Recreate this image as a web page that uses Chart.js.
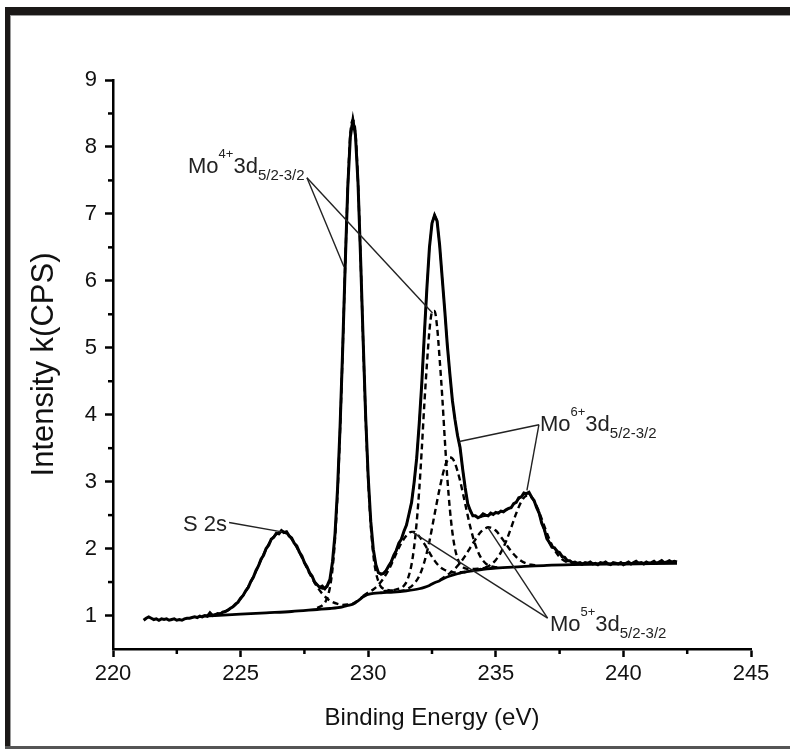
<!DOCTYPE html>
<html>
<head>
<meta charset="utf-8">
<script src="https://cdn.jsdelivr.net/npm/chart.js@4.4.0/dist/chart.umd.min.js"></script>
<style>
  html, body { margin: 0; padding: 0; background: #fff; }
  #wrap { position: relative; width: 790px; height: 749px; overflow: hidden; background: #fff; }
  #c { position: absolute; left: 0; top: 0; }
  .fr { position: absolute; }
</style>
</head>
<body>
<div id="wrap">
  <canvas id="c" width="790" height="749"></canvas>
  <div class="fr" style="left:5px;top:7px;width:785px;height:8px;background:#1b1817"></div>
  <div class="fr" style="left:10px;top:15px;width:780px;height:1px;background:#9a9a9a"></div>
  <div class="fr" style="left:5px;top:7px;width:5px;height:742px;background:#1b1817"></div>
  <div class="fr" style="left:10px;top:15px;width:1px;height:731px;background:#9a9a9a"></div>
  <div class="fr" style="left:5px;top:746px;width:785px;height:3px;background:#555"></div>
</div>
<script>
// ---------------- data ----------------
const xTicks = [220, 225, 230, 235, 240, 245];
const xMinorTicks = [222.5, 227.5, 232.5, 237.5, 242.5];
const yTicks = [1, 2, 3, 4, 5, 6, 7, 8, 9];
const yMinorTicks = [1.5, 2.5, 3.5, 4.5, 5.5, 6.5, 7.5, 8.5];

// binding energy grid of the measured scan (eV)
const scanX = [
  221.2,221.3,221.4,221.5,221.6,221.7,221.8,221.9,222.0,222.1,
  222.2,222.3,222.4,222.5,222.6,222.7,222.8,222.9,223.0,223.1,
  223.2,223.3,223.4,223.5,223.6,223.7,223.8,223.9,224.0,224.1,
  224.2,224.3,224.4,224.5,224.6,224.7,224.8,224.9,225.0,225.1,
  225.2,225.3,225.4,225.5,225.6,225.7,225.8,225.9,226.0,226.1,
  226.2,226.3,226.4,226.5,226.6,226.7,226.8,226.9,227.0,227.1,
  227.2,227.3,227.4,227.5,227.6,227.7,227.8,227.9,228.0,228.1,
  228.2,228.3,228.4,228.5,228.6,228.7,228.8,228.9,229.0,229.1,
  229.2,229.3,229.4,229.5,229.6,229.7,229.8,229.9,230.0,230.1,
  230.2,230.3,230.4,230.5,230.6,230.7,230.8,230.9,231.0,231.1,
  231.2,231.3,231.4,231.5,231.6,231.7,231.8,231.9,232.0,232.1,
  232.2,232.3,232.4,232.5,232.6,232.7,232.8,232.9,233.0,233.1,
  233.2,233.3,233.4,233.5,233.6,233.7,233.8,233.9,234.0,234.1,
  234.2,234.3,234.4,234.5,234.6,234.7,234.8,234.9,235.0,235.1,
  235.2,235.3,235.4,235.5,235.6,235.7,235.8,235.9,236.0,236.1,
  236.2,236.3,236.4,236.5,236.6,236.7,236.8,236.9,237.0,237.1,
  237.2,237.3,237.4,237.5,237.6,237.7,237.8,237.9,238.0,238.1,
  238.2,238.3,238.4,238.5,238.6,238.7,238.8,238.9,239.0,239.1,
  239.2,239.3,239.4,239.5,239.6,239.7,239.8,239.9,240.0,240.1,
  240.2,240.3,240.4,240.5,240.6,240.7,240.8,240.9,241.0,241.1,
  241.2,241.3,241.4,241.5,241.6,241.7,241.8,241.9,242.0,242.1
];
// measured intensity, k(CPS)
const measured = [
  0.93,0.96,0.98,0.96,0.94,0.95,0.93,0.95,0.94,0.95,
  0.93,0.94,0.95,0.93,0.94,0.93,0.95,0.96,0.96,0.97,
  0.98,0.97,0.99,0.98,1.00,0.99,1.04,1.00,1.01,1.03,
  1.02,1.05,1.06,1.08,1.11,1.13,1.17,1.20,1.26,1.30,
  1.37,1.42,1.51,1.57,1.67,1.74,1.84,1.90,2.00,2.05,
  2.14,2.17,2.23,2.22,2.27,2.24,2.25,2.19,2.16,2.08,
  2.04,1.95,1.89,1.79,1.73,1.64,1.59,1.50,1.46,1.42,
  1.44,1.40,1.45,1.54,1.80,2.22,2.90,3.84,4.98,6.25,
  7.40,8.15,8.40,8.18,7.47,6.36,5.14,3.98,3.07,2.41,
  1.99,1.76,1.64,1.62,1.63,1.67,1.74,1.80,1.90,1.97,
  2.08,2.14,2.26,2.35,2.52,2.69,2.99,3.35,3.87,4.47,
  5.20,5.89,6.50,6.86,6.98,6.89,6.53,6.04,5.56,5.04,
  4.61,4.21,3.93,3.69,3.51,3.19,2.91,2.67,2.57,2.49,
  2.49,2.46,2.48,2.52,2.50,2.49,2.53,2.51,2.54,2.53,
  2.56,2.55,2.58,2.60,2.61,2.67,2.69,2.76,2.77,2.83,
  2.82,2.84,2.77,2.72,2.61,2.53,2.38,2.29,2.15,2.09,
  2.02,2.01,1.96,1.94,1.88,1.87,1.82,1.82,1.79,1.80,
  1.78,1.79,1.77,1.79,1.78,1.80,1.77,1.78,1.76,1.79,
  1.78,1.80,1.77,1.76,1.79,1.78,1.77,1.79,1.76,1.78,
  1.80,1.77,1.79,1.81,1.78,1.79,1.77,1.80,1.78,1.79,
  1.81,1.78,1.80,1.82,1.79,1.80,1.82,1.80,1.81,1.80
];
// fitted envelope on the same grid (null = outside fit range)
const envelope = [
  null,null,null,null,null,null,null,null,null,null,
  null,null,null,null,null,null,null,null,null,null,
  null,null,null,0.99,0.99,1.00,1.00,1.01,1.02,1.02,
  1.03,1.05,1.06,1.08,1.10,1.13,1.16,1.20,1.25,1.30,
  1.36,1.43,1.50,1.58,1.66,1.75,1.83,1.91,1.99,2.06,
  2.13,2.18,2.22,2.24,2.26,2.25,2.23,2.20,2.15,2.09,
  2.03,1.96,1.88,1.80,1.72,1.65,1.58,1.51,1.46,1.42,
  1.40,1.40,1.43,1.53,1.78,2.21,2.88,3.83,4.99,6.26,
  7.42,8.20,8.42,8.22,7.49,6.37,5.13,3.99,3.06,2.40,
  1.98,1.74,1.64,1.61,1.62,1.68,1.73,1.81,1.89,1.98,
  2.07,2.15,2.25,2.36,2.51,2.70,2.98,3.36,3.86,4.48,
  5.19,5.90,6.49,6.87,6.99,6.90,6.52,6.05,5.55,5.05,
  4.60,4.22,3.92,3.70,3.50,3.20,2.90,2.68,2.56,2.50,
  2.48,2.47,2.47,2.48,2.49,2.50,2.51,2.52,2.53,2.54,
  2.55,2.56,2.57,2.59,2.62,2.66,2.70,2.74,2.78,2.81,
  2.83,2.82,2.78,2.71,2.62,2.51,2.39,2.27,2.16,2.08,
  2.03,2.00,1.97,1.93,1.89,1.86,1.83,1.81,1.80,1.79,
  1.785,1.78,1.78,1.78,1.78,1.78,1.78,1.78,1.78,1.78,
  1.78,1.78,1.78,1.78,1.78,1.78,1.78,1.785,1.785,1.785,
  1.785,1.785,1.785,1.785,1.79,1.79,1.79,1.79,1.79,1.79,
  1.79,1.79,1.79,1.79,1.79,1.79,1.79,1.79,1.79,1.79
];
// background
const bgX = [223.5,224.0,225.0,226.0,227.0,228.0,228.5,229.0,229.2,229.4,229.5,229.6,229.7,229.8,229.9,230.0,230.2,230.5,231.0,231.5,232.0,232.2,232.4,232.6,232.8,233.0,233.2,233.4,233.6,233.8,234.0,234.5,235.0,236.0,237.0,238.0,240.0,242.1];
const bgY = [0.99,1.00,1.02,1.04,1.06,1.09,1.105,1.13,1.15,1.17,1.19,1.22,1.25,1.28,1.30,1.315,1.33,1.34,1.35,1.37,1.40,1.42,1.45,1.49,1.52,1.56,1.59,1.615,1.635,1.65,1.665,1.69,1.71,1.73,1.75,1.76,1.77,1.78];
// fitted components (dashed), each on top of background
const s2sX = [224.0,224.2,224.4,224.6,224.8,225.0,225.2,225.4,225.6,225.8,226.0,226.2,226.4,226.6,226.8,227.0,227.2,227.4,227.6,227.8,228.0,228.2,228.4,228.6,228.8,229.0,229.2,229.4,229.6,229.8,230.0];
const s2sY = [1.015,1.033,1.061,1.103,1.164,1.25,1.362,1.502,1.661,1.83,1.992,2.127,2.217,2.252,2.225,2.143,2.018,1.866,1.707,1.558,1.428,1.326,1.25,1.201,1.173,1.159,1.165,1.178,1.225,1.283,1.317];
const mo4aX = [228.0,228.2,228.3,228.4,228.5,228.6,228.7,228.8,228.9,229.0,229.1,229.2,229.3,229.4,229.5,229.6,229.7,229.8,229.9,230.0,230.1,230.2,230.3,230.4,230.5,230.6,230.8,231.0];
const mo4aY = [1.115,1.15,1.19,1.27,1.42,1.69,2.14,2.83,3.79,4.96,6.24,7.40,8.20,8.40,8.22,7.47,6.35,5.11,3.96,3.03,2.35,1.91,1.65,1.51,1.43,1.40,1.38,1.37];
const mo4bX = [230.6,230.8,231.0,231.2,231.3,231.4,231.5,231.6,231.7,231.8,231.9,232.0,232.1,232.2,232.3,232.4,232.5,232.6,232.7,232.8,232.9,233.0,233.1,233.2,233.3,233.4,233.5,233.6,233.7,233.8,234.0,234.3,234.6];
const mo4bY = [1.363,1.372,1.378,1.40,1.414,1.445,1.50,1.605,1.765,2.025,2.395,2.88,3.49,4.16,4.75,5.26,5.53,5.55,5.31,4.83,4.28,3.64,3.055,2.59,2.24,2.00,1.855,1.765,1.725,1.704,1.695,1.70,1.71];
const mo5aX = [229.8,230.0,230.2,230.4,230.6,230.8,231.0,231.2,231.4,231.6,231.7,231.8,232.0,232.2,232.4,232.6,232.8,233.0,233.2,233.4,233.6,233.8];
const mo5aY = [1.292,1.344,1.39,1.46,1.555,1.68,1.84,2.01,2.145,2.235,2.25,2.25,2.18,2.07,1.94,1.82,1.73,1.68,1.65,1.644,1.647,1.655];
const mo6aX = [231.2,231.4,231.6,231.8,232.0,232.2,232.4,232.6,232.8,233.0,233.1,233.2,233.3,233.4,233.6,233.8,234.0,234.2,234.4,234.6,234.8,235.0,235.2];
const mo6aY = [1.364,1.377,1.41,1.477,1.59,1.80,2.11,2.51,2.90,3.22,3.315,3.36,3.345,3.275,3.015,2.67,2.325,2.055,1.875,1.78,1.737,1.722,1.718];
const mo5bX = [232.8,233.0,233.2,233.4,233.6,233.8,234.0,234.2,234.4,234.6,234.7,234.8,235.0,235.2,235.4,235.6,235.8,236.0,236.2,236.4,236.6];
const mo5bY = [1.53,1.58,1.633,1.70,1.785,1.89,2.015,2.135,2.245,2.304,2.318,2.312,2.27,2.174,2.068,1.962,1.876,1.814,1.777,1.758,1.751];
const mo6bX = [234.2,234.4,234.6,234.8,235.0,235.2,235.4,235.6,235.8,236.0,236.2,236.3,236.4,236.6,236.8,237.0,237.2,237.4,237.6,237.8,238.0,238.2,238.4];
const mo6bY = [1.678,1.694,1.718,1.759,1.831,1.943,2.107,2.311,2.526,2.702,2.79,2.792,2.765,2.637,2.442,2.235,2.055,1.923,1.84,1.796,1.775,1.766,1.762];

// ---------------- annotations (anchored in data units) ----------------
const annotations = [
  { parts: [['Mo',''],['4+','sup'],['3d',''],['5/2-3/2','sub']], at: [222.94, 7.61],
    lines: [[[227.6, 7.54],[229.05, 6.21]], [[227.6, 7.54],[232.52, 5.52]]] },
  { parts: [['Mo',''],['6+','sup'],['3d',''],['5/2-3/2','sub']], at: [236.73, 3.75],
    lines: [[[236.69, 3.85],[233.57, 3.6]], [[236.69, 3.85],[236.22, 2.87]]] },
  { parts: [['S 2s','']], at: [222.74, 2.27],
    lines: [[[224.55, 2.39],[226.62, 2.25]]] },
  { parts: [['Mo',''],['5+','sup'],['3d',''],['5/2-3/2','sub']], at: [237.12, 0.775],
    lines: [[[237.03, 0.96],[231.72, 2.25]], [[237.03, 0.96],[234.7, 2.31]]] }
];

// ---------------- drawing ----------------
const FONT = "'Liberation Sans', Arial, Helvetica, sans-serif";
const pts = (xs, ys) => xs.map((x, i) => ({ x: x, y: ys[i] })).filter(p => p.y !== null);

const solid = (data, w) => ({ data, borderColor: '#000', borderWidth: w, pointRadius: 0, showLine: true, tension: 0, fill: false });
const smooth = (data, w) => ({ data, borderColor: '#000', borderWidth: w, pointRadius: 0, showLine: true, cubicInterpolationMode: 'monotone', fill: false });
const dashed = (data) => ({ data, borderColor: '#000', borderWidth: 2.4, borderDash: [6, 4], pointRadius: 0, showLine: true, cubicInterpolationMode: 'monotone', fill: false });

const extras = {
  id: 'extras',
  afterDraw(chart) {
    const ctx = chart.ctx, xs = chart.scales.x, ys = chart.scales.y;
    const a = chart.chartArea;
    ctx.save();
    // minor ticks
    ctx.strokeStyle = '#000'; ctx.lineWidth = 2.5;
    xMinorTicks.forEach(v => { const p = xs.getPixelForValue(v); ctx.beginPath(); ctx.moveTo(p, a.bottom); ctx.lineTo(p, a.bottom + 5); ctx.stroke(); });
    yMinorTicks.forEach(v => { const p = ys.getPixelForValue(v); ctx.beginPath(); ctx.moveTo(a.left - 5, p); ctx.lineTo(a.left, p); ctx.stroke(); });
    // annotation leader lines
    ctx.strokeStyle = '#222'; ctx.lineWidth = 1.4;
    annotations.forEach(an => an.lines.forEach(l => {
      ctx.beginPath();
      ctx.moveTo(xs.getPixelForValue(l[0][0]), ys.getPixelForValue(l[0][1]));
      ctx.lineTo(xs.getPixelForValue(l[1][0]), ys.getPixelForValue(l[1][1]));
      ctx.stroke();
    }));
    // annotation text
    ctx.fillStyle = '#222'; ctx.textBaseline = 'alphabetic'; ctx.textAlign = 'left';
    annotations.forEach(an => {
      let cx = xs.getPixelForValue(an.at[0]);
      const by = ys.getPixelForValue(an.at[1]);
      an.parts.forEach(([t, k]) => {
        let size = 22, dy = 0;
        if (k === 'sup') { size = 13; dy = -15; }
        if (k === 'sub') { size = 15; dy = 7; }
        ctx.font = size + 'px ' + FONT;
        ctx.fillText(t, cx, by + dy);
        cx += ctx.measureText(t).width;
      });
    });
    ctx.restore();
  }
};

new Chart(document.getElementById('c'), {
  type: 'scatter',
  data: {
    datasets: [
      solid(pts(scanX, measured), 3),
      solid(pts(scanX, envelope), 1.8),
      smooth(pts(bgX, bgY), 2.8),
      dashed(pts(s2sX, s2sY)),
      dashed(pts(mo4aX, mo4aY)),
      dashed(pts(mo4bX, mo4bY)),
      dashed(pts(mo5aX, mo5aY)),
      dashed(pts(mo6aX, mo6aY)),
      dashed(pts(mo5bX, mo5bY)),
      dashed(pts(mo6bX, mo6bY))
    ]
  },
  options: {
    responsive: false,
    animation: false,
    devicePixelRatio: 1,
    layout: { padding: { left: 0, right: 39, top: 80, bottom: 0 } },
    plugins: { legend: { display: false }, tooltip: { enabled: false } },
    scales: {
      x: {
        type: 'linear', min: 220, max: 245,
        afterBuildTicks: s => { s.ticks = xTicks.map(v => ({ value: v })); },
        afterFit: s => { s.height = 100; },
        border: { display: true, color: '#000', width: 2.5 },
        grid: { display: true, drawOnChartArea: false, drawTicks: true, tickLength: 8, tickWidth: 2.5, tickColor: '#000' },
        ticks: { font: { family: FONT, size: 22 }, color: '#111', padding: 4, maxRotation: 0, autoSkip: false },
        title: { display: true, text: 'Binding Energy (eV)', font: { family: FONT, size: 24 }, color: '#111', padding: { top: 0, bottom: 16 } }
      },
      y: {
        type: 'linear', min: 0.5, max: 9,
        afterBuildTicks: s => { s.ticks = yTicks.map(v => ({ value: v })); },
        afterFit: s => { s.width = 113; },
        border: { display: true, color: '#000', width: 2.5 },
        grid: { display: true, drawOnChartArea: false, drawTicks: true, tickLength: 8, tickWidth: 2.5, tickColor: '#000' },
        ticks: { font: { family: FONT, size: 22 }, color: '#111', padding: 8, autoSkip: false },
        title: { display: true, text: 'Intensity k(CPS)', font: { family: FONT, size: 31 }, color: '#111', padding: { top: 26, bottom: 0 } }
      }
    }
  },
  plugins: [extras]
});
</script>
</body>
</html>
